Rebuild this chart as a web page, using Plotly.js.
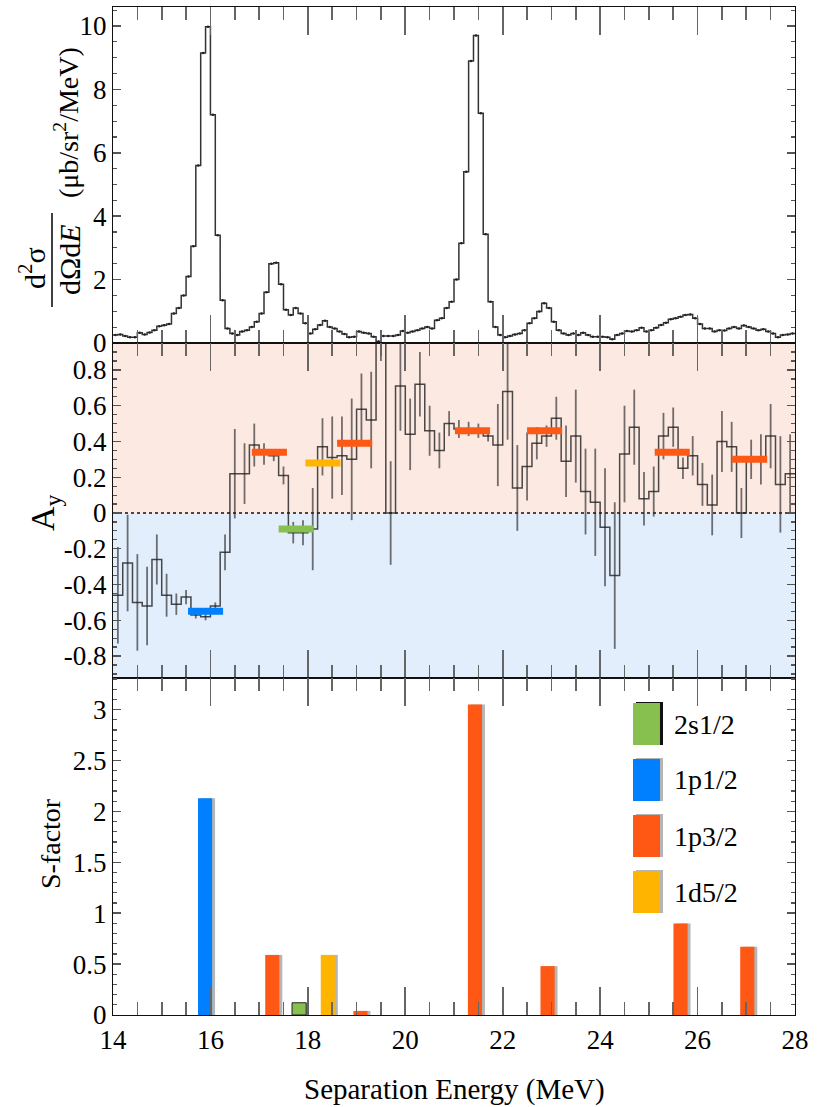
<!DOCTYPE html>
<html><head><meta charset="utf-8">
<script src="https://cdn.plot.ly/plotly-3.0.1.min.js"></script>
<style>body{margin:0;background:#fff}#chart{width:824px;height:1107px}</style>
</head><body><div id="chart"></div>
<script>
// ---------------- data ----------------
const xsStart = 14.0, xsBinWidth = 0.1;
const crossSection = [
 0.25,0.27,0.22,0.18,0.18,0.32,0.27,0.33,0.40,0.53,
 0.56,0.60,0.93,1.10,1.50,2.10,3.05,5.60,9.15,9.98,
 7.20,3.40,1.35,0.46,0.30,0.25,0.36,0.40,0.50,0.67,
 0.93,1.60,2.50,2.53,1.85,1.05,0.88,1.10,0.93,0.62,
 0.30,0.43,0.57,0.70,0.50,0.46,0.36,0.28,0.18,0.20,
 0.36,0.32,0.30,0.20,0.05,0.22,0.22,0.22,0.25,0.38,
 0.32,0.36,0.40,0.46,0.50,0.46,0.72,0.78,1.10,1.30,
 2.00,3.15,5.40,8.90,9.70,7.25,3.43,1.30,0.50,0.25,
 0.18,0.22,0.27,0.30,0.40,0.62,0.78,0.99,1.25,1.10,
 0.67,0.40,0.30,0.25,0.30,0.25,0.32,0.25,0.20,0.20,
 0.20,0.18,0.12,0.25,0.30,0.38,0.36,0.40,0.48,0.36,
 0.40,0.48,0.57,0.64,0.75,0.78,0.83,0.88,0.90,0.78,
 0.60,0.46,0.46,0.36,0.40,0.39,0.46,0.50,0.46,0.55,
 0.50,0.46,0.40,0.43,0.36,0.30,0.18,0.25,0.27,0.30];

const ayStart = 14.0, ayBinWidth = 0.2;
const ayValues = [
 -0.46,-0.28,-0.50,-0.52,-0.26,-0.46,-0.51,-0.47,-0.57,-0.58,
 -0.52,-0.22,0.22,0.22,0.38,0.33,0.32,0.21,-0.11,-0.11,
 -0.09,0.37,0.31,0.32,0.30,0.58,0.52,1.15,0.00,0.71,
 0.44,0.72,0.46,0.35,0.50,0.47,0.47,0.46,0.43,0.38,
 0.68,0.14,0.26,0.39,0.43,0.53,0.29,0.43,0.12,0.06,
 -0.08,-0.35,0.33,0.48,0.08,0.12,0.43,0.48,0.25,0.32,
 0.16,0.045,0.40,0.37,0.00,0.30,0.30,0.43,0.16,0.22];
const ayErrors = [
 0.27,0.27,0.27,0.22,0.14,0.12,0.06,0.04,0.02,0.02,
 0.02,0.10,0.25,0.17,0.12,0.06,0.03,0.05,0.06,0.07,
 0.23,0.16,0.23,0.22,0.34,0.20,0.27,0.30,0.29,0.25,
 0.20,0.18,0.14,0.10,0.07,0.05,0.04,0.04,0.03,0.23,
 0.27,0.24,0.19,0.09,0.06,0.12,0.20,0.26,0.24,0.30,
 0.33,0.41,0.27,0.21,0.15,0.14,0.13,0.11,0.06,0.11,
 0.12,0.17,0.17,0.14,0.14,0.11,0.14,0.18,0.27,0.22];

const orbitals = ['2s1/2','1p1/2','1p3/2','1d5/2'];
const orbitalColors = ['#88c050','#0080ff','#ff5714','#ffb400'];

const stateOrbital = ['1p1/2','1p3/2','2s1/2','1d5/2','1p3/2','1p3/2','1p3/2','1p3/2','1p3/2'];
const stateEnergy  = [15.89,17.27,17.82,18.41,19.08,21.43,22.92,25.65,27.02];
const sFactor      = [2.13,0.59,0.12,0.59,0.04,3.05,0.48,0.90,0.67];
const ayStateEnergy = [15.90,17.21,17.76,18.31,18.96,21.38,22.86,25.48,27.07];
const ayStateValue  = [-0.55,0.34,-0.09,0.28,0.39,0.46,0.46,0.34,0.30];

const xTickValues = [14,16,18,20,22,24,26,28];
const xTickLabels = ['14','16','18','20','22','24','26','28'];
const xsTickValues = [0,2,4,6,8,10];
const xsTickLabels = ['0','2','4','6','8','10'];
const ayTickValues = [-0.8,-0.6,-0.4,-0.2,0,0.2,0.4,0.6,0.8];
const ayTickLabels = ['-0.8','-0.6','-0.4','-0.2','0','0.2','0.4','0.6','0.8'];
const sfTickValues = [0,0.5,1,1.5,2,2.5,3];
const sfTickLabels = ['0','0.5','1','1.5','2','2.5','3'];

// ---------------- helpers ----------------
const FONT = 'Liberation Serif';
const pX = px => (px - 113) / 682;
const pY = py => (1015 - py) / 1008;
const colorOf = o => orbitalColors[orbitals.indexOf(o)];

function stepEdges(start, w, vals){
  const x = [], y = [];
  vals.forEach((v,i)=>{ x.push(start + i*w); y.push(v); });
  x.push(start + vals.length*w); y.push(vals[vals.length-1]);
  return {x,y};
}
const traces = [];

// top panel
const xsStep = stepEdges(xsStart, xsBinWidth, crossSection);
traces.push({x:xsStep.x, y:xsStep.y, type:'scatter', mode:'lines', line:{shape:'hv', color:'#333', width:1.5}, xaxis:'x', yaxis:'y', hoverinfo:'skip'});
traces.push({x:crossSection.map((v,i)=>xsStart+(i+0.5)*xsBinWidth), y:crossSection, type:'scatter', mode:'markers', marker:{size:2.5, color:'#222'}, xaxis:'x', yaxis:'y'});

// middle panel
const aySt = stepEdges(ayStart, ayBinWidth, ayValues);
traces.push({x:aySt.x, y:aySt.y, type:'scatter', mode:'lines', line:{shape:'hv', color:'rgba(30,30,30,0.8)', width:1.5}, xaxis:'x2', yaxis:'y2'});
traces.push({x:ayValues.map((v,i)=>ayStart+(i+0.5)*ayBinWidth), y:ayValues, type:'scatter', mode:'markers',
  marker:{size:1, color:'rgba(40,40,40,0.6)'},
  error_y:{type:'data', array:ayErrors, visible:true, width:0, thickness:1.8, color:'rgba(40,40,40,0.65)'}, xaxis:'x2', yaxis:'y2'});
ayStateEnergy.forEach((e,i)=>{
  traces.push({x:[e-0.36, e+0.36], y:[ayStateValue[i], ayStateValue[i]], type:'scatter', mode:'lines',
    line:{color:colorOf(stateOrbital[i]), width:7}, xaxis:'x2', yaxis:'y2'});
});

// bottom panel: shadow then bars
traces.push({x:stateEnergy.map(e=>e+0.06), y:sFactor, type:'bar', width:0.29, marker:{color:'#b5b5b5'}, xaxis:'x3', yaxis:'y3'});
orbitals.forEach((o,k)=>{
  const idx = stateOrbital.map((s,i)=>s===o?i:-1).filter(i=>i>=0);
  traces.push({x:idx.map(i=>stateEnergy[i]), y:idx.map(i=>sFactor[i]), type:'bar', width:0.29, name:o,
    marker:{color:orbitalColors[k], line:{color: o==='2s1/2' ? '#222' : orbitalColors[k], width: o==='2s1/2'?1:0}},
    xaxis:'x3', yaxis:'y3'});
});

// ---------------- layout ----------------
const tickFont = {family:FONT, size:27, color:'#000'};
function xAxis(anchor, labels){
  return {range:[14,28], tickmode:'array', tickvals:xTickValues, ticktext:xTickLabels, showticklabels:labels,
    ticks:'inside', ticklen:28, tickwidth:1.6, tickcolor:'#666',
    minor:{tickmode:'linear', tick0:14, dtick:0.5, ticks:'inside', ticklen:13, tickwidth:1.6, tickcolor:'#666'},
    showline:true, linecolor:'#111', linewidth:1.2, mirror:'ticks', showgrid:false, zeroline:false,
    anchor:anchor, tickfont:tickFont, fixedrange:true};
}
function yAxis(anchor, domain, range, vals, txt, minorStep){
  return {domain:domain, range:range, tickmode:'array', tickvals:vals, ticktext:txt,
    ticks:'inside', ticklen:8, tickwidth:1.4, tickcolor:'#555',
    minor:{tickmode:'linear', tick0:0, dtick:minorStep, ticks:'inside', ticklen:4, tickwidth:1.2, tickcolor:'#555'},
    showline:true, linecolor:'#111', linewidth:1.2, mirror:'ticks', showgrid:false, zeroline:false,
    anchor:anchor, tickfont:tickFont, fixedrange:true};
}

const shapes = [
  {type:'rect', xref:'x2 domain', yref:'y2', x0:0, x1:1, y0:0, y1:0.951, fillcolor:'#fce9e1', line:{width:0}, layer:'below'},
  {type:'rect', xref:'x2 domain', yref:'y2', x0:0, x1:1, y0:-0.923, y1:0, fillcolor:'#e2eefc', line:{width:0}, layer:'below'},
  {type:'line', xref:'x2 domain', yref:'y2', x0:0, x1:1, y0:0, y1:0, line:{color:'#111', width:1.5, dash:'dot'}, layer:'below'},
  {type:'line', xref:'paper', yref:'paper', x0:pX(52), x1:pX(52), y0:pY(213), y1:pY(307), line:{color:'#000', width:1.5}}
];
const A = (text, px, py, size, angle, extra) => Object.assign({text, xref:'paper', yref:'paper', x:pX(px), y:pY(py),
  xanchor:'center', yanchor:'middle', textangle:angle, showarrow:false, font:{family:FONT, size, color:'#000'}}, extra||{});
const annotations = [
  A('d<sup>2</sup>σ', 32, 268, 30, -90),
  A('dΩd<i>E</i>', 69, 260, 30, -90),
  A('(μb/sr<sup>2</sup>/MeV)', 66, 123, 28, -90),
  A('A<sub>y</sub>', 45, 513, 34, -90),
  A('S-factor', 51, 844, 28, -90),
  A('Separation Energy (MeV)', 454, 1089, 29, 0)
];
// legend built from orbital list
orbitals.forEach((o,i)=>{
  const top = 703 + i*56, bot = top + 42;
  shapes.push({type:'rect', xref:'paper', yref:'paper', x0:pX(636), x1:pX(663), y0:pY(bot), y1:pY(top-1), fillcolor: o==='2s1/2' ? '#111' : '#b5b5b5', line:{width:0}});
  shapes.push({type:'rect', xref:'paper', yref:'paper', x0:pX(633), x1:pX(660), y0:pY(bot), y1:pY(top), fillcolor:orbitalColors[i], line:{width:0}});
  annotations.push(A(o, 672, (top+bot)/2, 28, 0, {xanchor:'left'}));
});

const layout = {
  width:824, height:1107, margin:{l:113, r:29, t:7, b:92},
  paper_bgcolor:'#fff', plot_bgcolor:'rgba(0,0,0,0)', showlegend:false, barmode:'overlay',
  font:{family:FONT, color:'#000'},
  xaxis: xAxis('y', false),
  xaxis2: xAxis('y2', false),
  xaxis3: xAxis('y3', true),
  yaxis: yAxis('x', [0.6667,1], [0,10.6], xsTickValues, xsTickLabels, 0.5),
  yaxis2: yAxis('x2', [0.3343,0.6667], [-0.923,0.951], ayTickValues, ayTickLabels, 0.05),
  yaxis3: yAxis('x3', [0,0.3343], [0,3.31], sfTickValues, sfTickLabels, 0.1),
  shapes:shapes, annotations:annotations
};
Plotly.newPlot('chart', traces, layout, {staticPlot:true, displayModeBar:false});
</script></body></html>
